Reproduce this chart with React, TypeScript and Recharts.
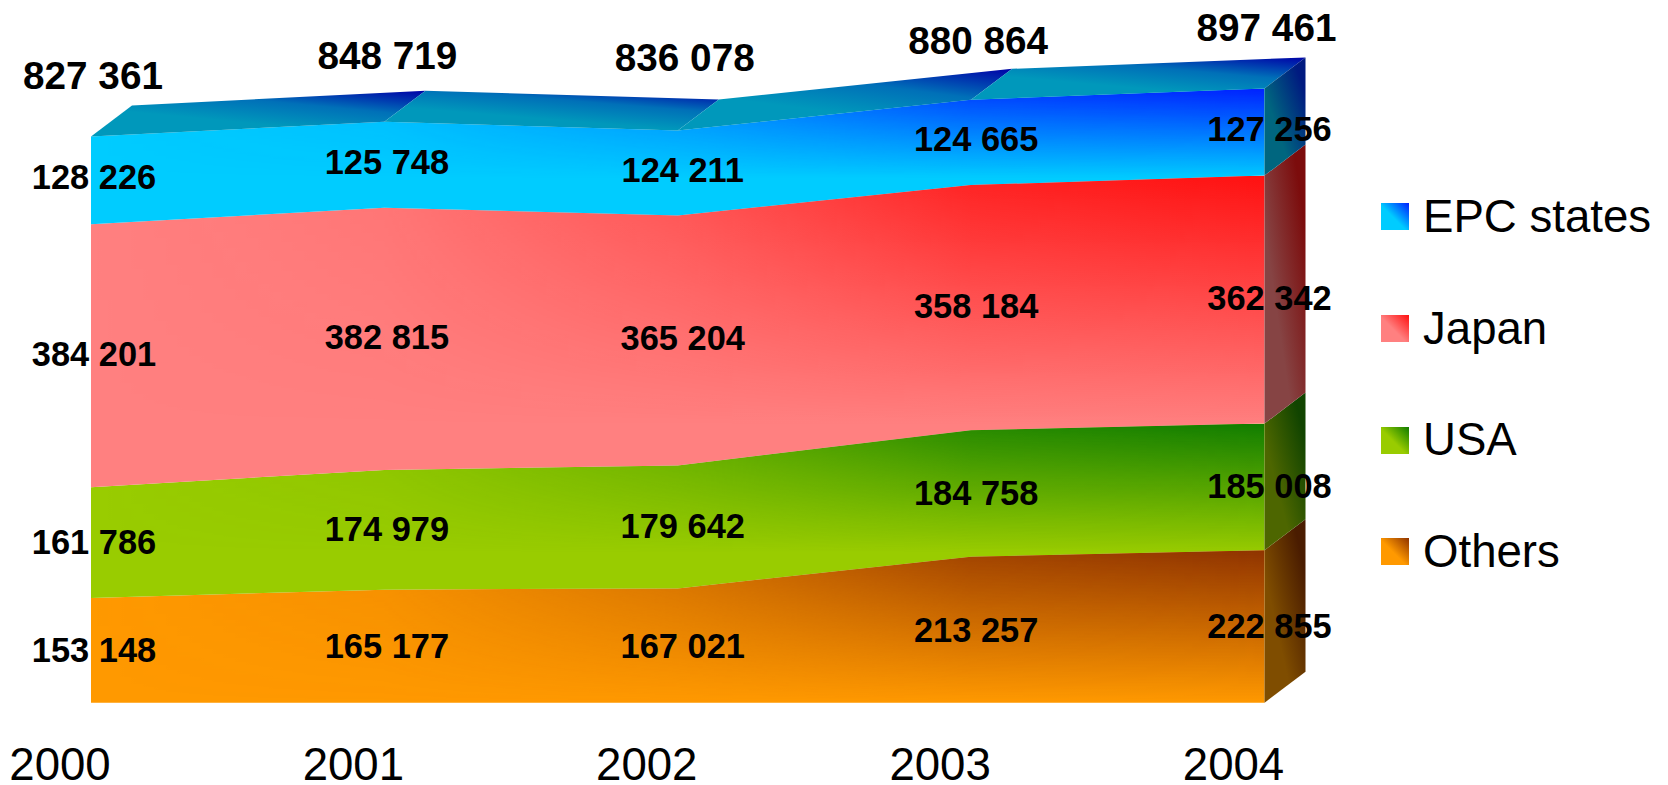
import { Area, ComposedChart, Legend, LabelList, Line, XAxis, YAxis } from 'recharts';

const years = ['2000', '2001', '2002', '2003', '2004'];
const others = [153148, 165177, 167021, 213257, 222855];
const usa = [161786, 174979, 179642, 184758, 185008];
const japan = [384201, 382815, 365204, 358184, 362342];
const epc = [128226, 125748, 124211, 124665, 127256];
const totals = [827361, 848719, 836078, 880864, 897461];

const rows = years.map((year, i) => ({
  year,
  others: others[i],
  usa: usa[i],
  japan: japan[i],
  epc: epc[i],
  total: totals[i],
  othersMid: others[i] / 2,
  usaMid: others[i] + usa[i] / 2,
  japanMid: others[i] + usa[i] + japan[i] / 2,
  epcMid: others[i] + usa[i] + japan[i] + epc[i] / 2,
}));

const FONT = '"Liberation Sans", Arial, sans-serif';
const DEPTH_X = 41;
const DEPTH_Y = 31;

// stacking order, bottom to top
const bands = [
  { key: 'others', name: 'Others', light: '#ff9900', dark: '#8f3300', fade: 1, labelDy: 0, sideLight: '#7f4d00', sideDark: '#4a1c00' },
  { key: 'usa', name: 'USA', light: '#99cc00', dark: '#107c00', fade: 0.74, labelDy: -0.5, sideLight: '#4d6600', sideDark: '#114400' },
  { key: 'japan', name: 'Japan', light: '#ff8080', dark: '#ff1010', fade: 0.8, labelDy: -2, sideLight: '#864444', sideDark: '#7c0c0c' },
  { key: 'epc', name: 'EPC states', light: '#00ccff', dark: '#0020ff', fade: 0.66, labelDy: -3, sideLight: '#00667f', sideDark: '#001a80' },
];

const fmt = (v: number) => String(v).replace(/\B(?=(\d{3})+$)/g, ' ');

const sideFace = (id: string) => (props: any) => {
  const { index, cx, cy, points } = props;
  if (index !== points.length - 1) return <g key={index} />;
  const first = points[0];
  const last = points[index];
  const perUnit = (first.y - last.y) / (last.value[1] - first.value[1]);
  const low = cy + (last.value[1] - last.value[0]) * perUnit;
  const pts = [
    [cx, cy],
    [cx + DEPTH_X, cy - DEPTH_Y],
    [cx + DEPTH_X, low - DEPTH_Y],
    [cx, low],
  ];
  return <polygon key={index} points={pts.join(' ')} fill={`url(#side-${id})`} />;
};

// top band also carries the roof of the chart
const roofAndSide = (id: string) => {
  const side = sideFace(id);
  return (props: any) => {
    const { index, cx, cy, points } = props;
    const next = points[index + 1];
    if (!next) return side(props);
    const pts = [
      [cx, cy],
      [next.x, next.y],
      [next.x + DEPTH_X, next.y - DEPTH_Y],
      [cx + DEPTH_X, cy - DEPTH_Y],
    ];
    return <polygon key={index} points={pts.join(' ')} fill="url(#roof)" />;
  };
};

const YearTick = ({ x, y, payload }: any) => (
  <text x={x - 31} y={y + 69} textAnchor="middle" fontSize={45.6} fontFamily={FONT} fill="#000">
    {payload.value}
  </text>
);

const labelDx = [3, 2.5, 5, 5, 5];

const bandLabel = (dy: number) => (props: any) => (
  <text
    x={props.x + labelDx[props.index]}
    y={props.y + dy}
    textAnchor="middle"
    dominantBaseline="central"
    fontSize={34.4}
    fontWeight="bold"
    fontFamily={FONT}
    fill="#000"
  >
    {fmt(props.value)}
  </text>
);

const totalDx = [2, 3, 7, 7, 2];
const totalDy = [-61, -66, -73, -59, -61];

const totalLabel = (props: any) => (
  <text
    x={props.x + totalDx[props.index]}
    y={props.y + totalDy[props.index]}
    textAnchor="middle"
    dominantBaseline="central"
    fontSize={38.7}
    fontWeight="bold"
    fontFamily={FONT}
    fill="#000"
  >
    {fmt(props.value)}
  </text>
);

const LegendBox = () => (
  <div style={{ fontFamily: FONT, fontSize: 45.6, color: '#000' }}>
    {[...bands].reverse().map((b) => (
      <div key={b.key} style={{ display: 'flex', alignItems: 'center', height: 111.7 }}>
        <span
          style={{
            display: 'block',
            width: 28,
            height: 27,
            marginRight: 14,
            background: `linear-gradient(45deg, ${b.light} 45%, ${b.dark} 100%)`,
          }}
        />
        {b.name}
      </div>
    ))}
  </div>
);

export default function App() {
  return (
    <div style={{ position: 'absolute', left: 0, top: 0, width: 1668, height: 785 }}>
      <ComposedChart
        width={1668}
        height={785}
        data={rows}
        margin={{ top: 86.7, right: 403.5, bottom: 0, left: 91 }}
      >
        <defs>
          <linearGradient id="across" x1="0" y1="0" x2="1" y2="0">
            <stop offset="0" stopColor="#fff" stopOpacity={0} />
            <stop offset="0.25" stopColor="#fff" stopOpacity={0.1} />
            <stop offset="0.5" stopColor="#fff" stopOpacity={0.42} />
            <stop offset="0.75" stopColor="#fff" stopOpacity={0.85} />
            <stop offset="1" stopColor="#fff" stopOpacity={1} />
          </linearGradient>
          <mask id="fadeIn" maskContentUnits="objectBoundingBox" x="0" y="0" width="1" height="1">
            <rect x="0" y="0" width="1" height="1" fill="url(#across)" />
          </mask>
          <linearGradient id="roof" x1="0.25" y1="1" x2="0.95" y2="0">
            <stop offset="0.3" stopColor="#0098bb" />
            <stop offset="0.65" stopColor="#0070b8" />
            <stop offset="1" stopColor="#0008a8" />
          </linearGradient>
          {bands.map((b) => (
            <linearGradient key={b.key} id={`shade-${b.key}`} x1="0" y1="0" x2="0" y2="1">
              <stop offset="0" stopColor={b.dark} stopOpacity={1} />
              <stop offset={b.fade} stopColor={b.dark} stopOpacity={0} />
            </linearGradient>
          ))}
          {bands.map((b) => (
            <linearGradient key={b.key} id={`side-${b.key}`} x1="0" y1="1" x2="1" y2="0">
              <stop offset="0.35" stopColor={b.sideLight} />
              <stop offset="0.85" stopColor={b.sideDark} />
            </linearGradient>
          ))}
        </defs>
        <XAxis
          dataKey="year"
          scale="point"
          height={82.3}
          interval={0}
          axisLine={false}
          tickLine={false}
          tick={YearTick}
        />
        <YAxis hide domain={[0, 900000]} />
        <Legend
          layout="vertical"
          align="center"
          verticalAlign="middle"
          content={LegendBox}
          wrapperStyle={{ left: 1381, top: 161, width: 287 }}
        />
        {bands.map((b) => (
          <Area
            key={b.key}
            type="linear"
            dataKey={b.key}
            name={b.name}
            stackId="base"
            fill={b.light}
            fillOpacity={1}
            stroke="none"
            dot={b.key === 'epc' ? roofAndSide(b.key) : sideFace(b.key)}
            isAnimationActive={false}
          />
        ))}
        {bands.map((b) => (
          <Area
            key={`${b.key}-shade`}
            type="linear"
            dataKey={b.key}
            stackId="shade"
            legendType="none"
            fill={`url(#shade-${b.key})`}
            fillOpacity={1}
            stroke="none"
            mask="url(#fadeIn)"
            isAnimationActive={false}
          />
        ))}
        {bands.map((b) => (
          <Line
            key={`${b.key}-mid`}
            dataKey={`${b.key}Mid`}
            stroke="none"
            dot={false}
            legendType="none"
            isAnimationActive={false}
          >
            <LabelList dataKey={b.key} content={bandLabel(b.labelDy)} />
          </Line>
        ))}
        <Line dataKey="total" stroke="none" dot={false} legendType="none" isAnimationActive={false}>
          <LabelList dataKey="total" content={totalLabel} />
        </Line>
      </ComposedChart>
    </div>
  );
}
